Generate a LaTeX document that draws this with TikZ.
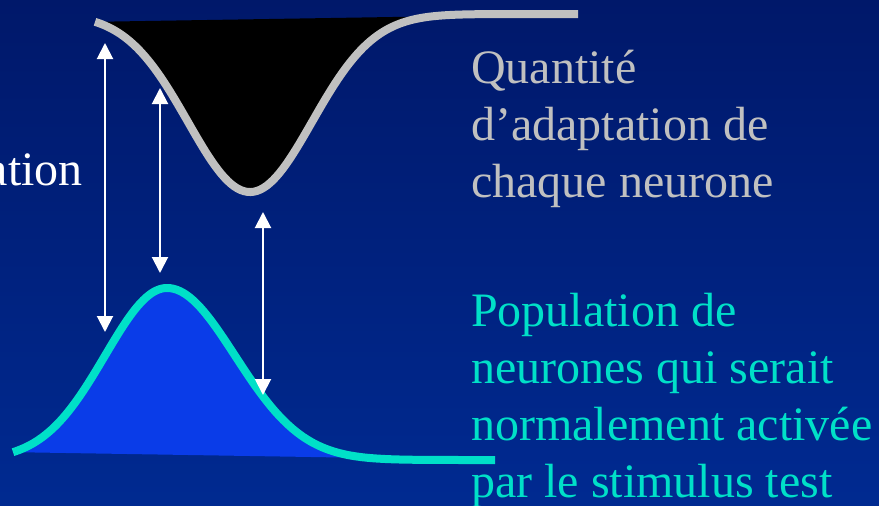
\documentclass[tikz,border=0pt]{standalone}
\usepackage{fontspec}
\setmainfont{Liberation Serif}
\usetikzlibrary{arrows.meta}
\definecolor{fondhaut}{RGB}{0,24,106}
\definecolor{fondbas}{RGB}{0,42,145}
\definecolor{grisclair}{RGB}{192,192,192}
\definecolor{turquoise}{RGB}{0,224,200}
\definecolor{bleuvif}{RGB}{10,60,232}

\begin{document}
\begin{tikzpicture}[
    x=1pt, y=-1pt,
    courbe/.style={line width=8pt},
    fleche/.style={{Triangle[width=16pt,length=16pt]}-{Triangle[width=16pt,length=16pt]}, draw=white, line width=2pt},
    txt/.style={font=\fontsize{48}{57}\selectfont, inner sep=0pt, align=left, anchor=base west}
]
\useasboundingbox (0,0) rectangle (879,506);
\shade[top color=fondhaut, bottom color=fondbas] (0,0) rectangle (879,506);

% adaptation (courbe du haut)
\fill[black] plot[domain=95:578, samples=150] (\x, {14+178*exp(-((\x-250)/62)^2/2)}) -- cycle;
\draw[courbe, grisclair] plot[domain=95:578, samples=150] (\x, {14+178*exp(-((\x-250)/62)^2/2)});

% population activee (courbe du bas)
\fill[bleuvif] plot[domain=13:167, samples=60] (\x, {460-172*exp(-((\x-167)/62)^2/2)})
    -- plot[domain=167:495, samples=100] (\x, {460-172*exp(-((\x-167)/68)^2/2)}) -- cycle;
\draw[courbe, turquoise] plot[domain=13:167, samples=60] (\x, {460-172*exp(-((\x-167)/62)^2/2)})
    -- plot[domain=167:495, samples=100] (\x, {460-172*exp(-((\x-167)/68)^2/2)});

% extremites des fleches
\coordinate (h1) at (105,43);
\coordinate (b1) at (105,332);
\coordinate (h2) at (160,88);
\coordinate (b2) at (160,273);
\coordinate (h3) at (263,212);
\coordinate (b3) at (263,395);
\draw[fleche] (h1) -- (b1);
\draw[fleche] (h2) -- (b2);
\draw[fleche] (h3) -- (b3);

% textes
\node[txt, anchor=base east, text=white] (coupe) at (83,185) {ation};
\node[txt, text=grisclair] (quantite) at (471,197) {Quantité\\d’adaptation de\\chaque neurone};
\node[txt, text=turquoise] (population) at (471,497) {Population de\\neurones qui serait\\normalement activée\\par le stimulus test};
\end{tikzpicture}
\end{document}
